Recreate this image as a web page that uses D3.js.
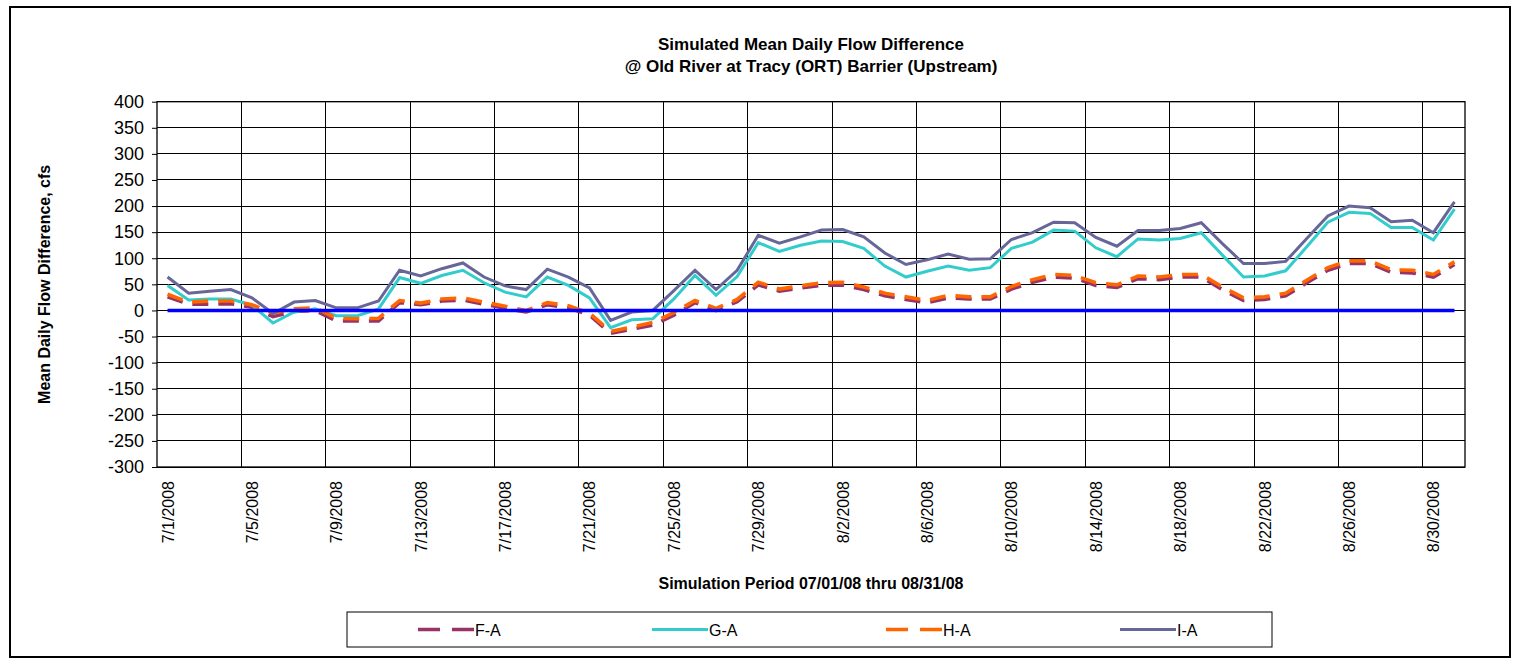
<!DOCTYPE html>
<html>
<head>
<meta charset="utf-8">
<script src="https://cdn.jsdelivr.net/npm/d3@7"></script>
<style>
  body { margin: 0; background: #fff; }
  text { font-family: Arial, "Liberation Sans", sans-serif; fill: #000; }
</style>
</head>
<body>
<script>
// categories: one per simulated day
var days = [
  "7/1/2008","7/2/2008","7/3/2008","7/4/2008","7/5/2008","7/6/2008","7/7/2008","7/8/2008",
  "7/9/2008","7/10/2008","7/11/2008","7/12/2008","7/13/2008","7/14/2008","7/15/2008","7/16/2008",
  "7/17/2008","7/18/2008","7/19/2008","7/20/2008","7/21/2008","7/22/2008","7/23/2008","7/24/2008",
  "7/25/2008","7/26/2008","7/27/2008","7/28/2008","7/29/2008","7/30/2008","7/31/2008","8/1/2008",
  "8/2/2008","8/3/2008","8/4/2008","8/5/2008","8/6/2008","8/7/2008","8/8/2008","8/9/2008",
  "8/10/2008","8/11/2008","8/12/2008","8/13/2008","8/14/2008","8/15/2008","8/16/2008","8/17/2008",
  "8/18/2008","8/19/2008","8/20/2008","8/21/2008","8/22/2008","8/23/2008","8/24/2008","8/25/2008",
  "8/26/2008","8/27/2008","8/28/2008","8/29/2008","8/30/2008","8/31/2008"
];

var tickLabels = ["7/1/2008","7/5/2008","7/9/2008","7/13/2008","7/17/2008","7/21/2008","7/25/2008","7/29/2008",
  "8/2/2008","8/6/2008","8/10/2008","8/14/2008","8/18/2008","8/22/2008","8/26/2008","8/30/2008"];

var yTicks = [400,350,300,250,200,150,100,50,0,-50,-100,-150,-200,-250,-300];

var fA = [26,12,12,13,6,-12,-2,0,-20,-20,-20,15,11,18,20,
  12,4,-3,11,5,-9,-44,-36,-28,-9,15,0,17,49,37,43,
  48,49,40,28,21,15,24,22,22,41,54,64,62,48,44,61,59,
  64,64,40,19,21,28,53,77,90,90,73,72,64,88];

var gA = [48,20,22,22,10,-24,-3,3,-10,-10,3,63,52,67,77,
  53,35,26,64,48,24,-33,-18,-16,22,67,29,65,130,113,125,
  133,132,119,85,64,75,85,77,82,119,131,154,152,120,103,137,135,
  138,149,106,64,66,76,122,169,188,186,159,159,135,194];

var hA = [31,16,18,18,11,-5,3,5,-15,-16,-15,19,14,22,24,
  16,8,0,15,9,-5,-40,-32,-23,-4,19,4,21,54,41,47,
  53,54,45,33,26,19,29,26,26,46,59,69,67,53,49,66,64,
  69,69,45,24,26,33,58,82,95,95,78,77,69,93];

var iA = [64,33,37,40,24,-6,16,19,5,5,18,77,66,80,91,
  64,47,40,79,64,43,-19,-3,0,38,77,40,77,144,129,141,
  154,155,141,110,88,97,108,98,99,136,149,169,168,140,123,153,153,
  157,168,128,90,90,94,138,181,200,197,170,173,149,208];

// base case difference, zero every day
var aA = [0,0,0,0,0,0,0,0,0,0,0,0,0,0,0,0,0,0,0,0,0,0,0,0,0,0,0,0,0,0,0,
  0,0,0,0,0,0,0,0,0,0,0,0,0,0,0,0,0,0,0,0,0,0,0,0,0,0,0,0,0,0,0];

var seriesNames = ["F-A","G-A","H-A","I-A"];

var W = 1520, H = 665;
var plotLeft = 157, plotRight = 1465, plotTop = 101.7, plotBottom = 467;

var svg = d3.select('body').append('svg').attr('width', W).attr('height', H);

// outer chart border
svg.append('rect').attr('x', 10).attr('y', 7).attr('width', 1500).attr('height', 650)
  .style('fill', '#fff').style('stroke', '#000').style('stroke-width', 2);

var x = d3.scaleBand().domain(days).range([plotLeft, plotRight]).padding(0);
var y = d3.scaleLinear().domain([-300, 400]).range([plotBottom, plotTop]);
var cx = function (d) { return x(d) + x.bandwidth() / 2; };

// horizontal gridlines
svg.append('g').selectAll('line').data(yTicks).enter().append('line')
  .attr('x1', plotLeft).attr('x2', plotRight)
  .attr('y1', function (d) { return y(d); }).attr('y2', function (d) { return y(d); })
  .style('stroke', '#000').style('stroke-width', 1).style('shape-rendering', 'crispEdges');

// vertical gridlines every 4 days
var vGrid = days.filter(function (d, i) { return i % 4 === 0 && i > 0; });
svg.append('g').selectAll('line').data(vGrid).enter().append('line')
  .attr('x1', function (d) { return x(d); }).attr('x2', function (d) { return x(d); })
  .attr('y1', plotTop).attr('y2', plotBottom)
  .style('stroke', '#000').style('stroke-width', 1).style('shape-rendering', 'crispEdges');

svg.append('rect').attr('x', plotLeft).attr('y', plotTop)
  .attr('width', plotRight - plotLeft).attr('height', plotBottom - plotTop)
  .style('fill', 'none').style('stroke', '#000').style('stroke-width', 1.3);

// y axis (plain hyphen for negatives)
var yAxis = svg.append('g').attr('transform', 'translate(' + plotLeft + ',0)')
  .call(d3.axisLeft(y).tickValues(yTicks).tickSize(5).tickPadding(8)
    .tickFormat(function (d) { return String(d); }));
yAxis.select('.domain').remove();
yAxis.selectAll('.tick line').style('stroke', '#000');
yAxis.selectAll('text').style('font-size', '18px').style('font-family', 'Arial, "Liberation Sans", sans-serif');

// x tick labels, rotated
svg.append('g').selectAll('text').data(tickLabels).enter().append('text')
  .attr('transform', function (d) { return 'translate(' + (cx(d) + 6) + ',' + (plotBottom + 14) + ') rotate(-90)'; })
  .attr('text-anchor', 'end')
  .style('font-size', '16px')
  .text(function (d) { return d; });

var line = d3.line()
  .x(function (d, i) { return cx(days[i]); })
  .y(function (d) { return y(d); });

var styles = [
  { data: fA, color: '#993366', dash: '16,10', w: 3.6 },
  { data: gA, color: '#33CCCC', dash: null, w: 3 },
  { data: hA, color: '#FF6600', dash: '16,10', w: 3.6 },
  { data: iA, color: '#666699', dash: null, w: 3 },
  { data: aA, color: '#0000FF', dash: null, w: 3.4 }
];

styles.forEach(function (s) {
  svg.append('path').datum(s.data).attr('d', line)
    .style('fill', 'none').style('stroke', s.color).style('stroke-width', s.w)
    .style('stroke-dasharray', s.dash).style('stroke-linejoin', 'miter');
});

// titles
svg.append('text').attr('x', (plotLeft + plotRight) / 2).attr('y', 50).attr('text-anchor', 'middle')
  .style('font-size', '17px').style('font-weight', 'bold').text('Simulated Mean Daily Flow Difference');
svg.append('text').attr('x', (plotLeft + plotRight) / 2).attr('y', 72).attr('text-anchor', 'middle')
  .style('font-size', '17px').style('font-weight', 'bold').text('@ Old River at Tracy (ORT) Barrier (Upstream)');

svg.append('text').attr('transform', 'translate(50,' + ((plotTop + plotBottom) / 2) + ') rotate(-90)')
  .attr('text-anchor', 'middle').style('font-size', '16px').style('font-weight', 'bold')
  .text('Mean Daily Flow Difference, cfs');

svg.append('text').attr('x', (plotLeft + plotRight) / 2).attr('y', 589).attr('text-anchor', 'middle')
  .style('font-size', '16px').style('font-weight', 'bold').text('Simulation Period 07/01/08 thru 08/31/08');

// legend
var legend = svg.append('g');
legend.append('rect').attr('x', 347).attr('y', 612).attr('width', 925).attr('height', 35)
  .style('fill', '#fff').style('stroke', '#000').style('stroke-width', 1);

var legendX = [418, 652, 886, 1120];
seriesNames.forEach(function (name, i) {
  var s = styles[i];
  legend.append('line').attr('x1', legendX[i]).attr('x2', legendX[i] + 56)
    .attr('y1', 629.5).attr('y2', 629.5)
    .style('stroke', s.color).style('stroke-width', s.w)
    .style('stroke-dasharray', s.dash ? '22,12' : null);
  legend.append('text').attr('x', legendX[i] + 57).attr('y', 635.5)
    .style('font-size', '16px').text(name);
});
</script>
</body>
</html>
